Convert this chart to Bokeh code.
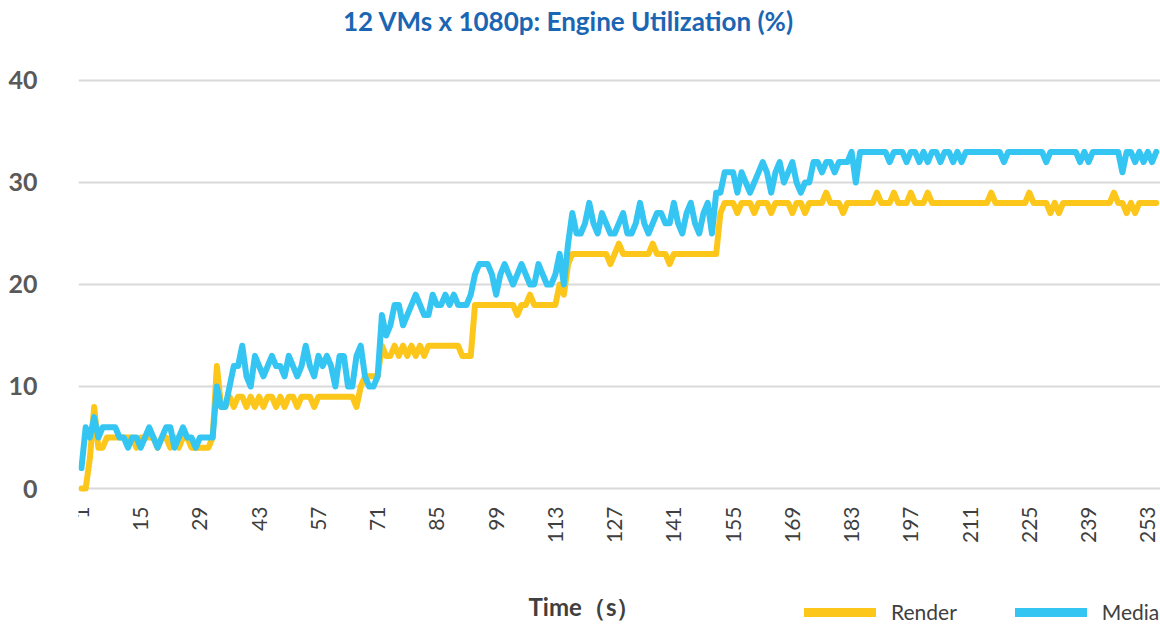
import math
import numpy as np
from bokeh.plotting import figure
from bokeh.models import Range1d, FixedTicker, Legend, LegendItem, ColumnDataSource, Label
from bokeh.embed import file_html
from bokeh.resources import INLINE

title_text = "12 VMs x 1080p: Engine Utilization (%)"
x_title = "Time（s）"
series_names = ["Render", "Media"]

render = [
    0, 0, 3, 8, 4, 4, 5, 5, 5, 5,
    5, 5, 5, 4, 5, 5, 5, 5, 4, 5,
    5, 4, 5, 4, 5, 5, 4, 4, 4, 4,
    4, 5, 12, 8, 8, 9, 8, 9, 9, 8,
    9, 8, 9, 8, 9, 9, 8, 9, 8, 9,
    9, 8, 9, 9, 9, 8, 9, 9, 9, 9,
    9, 9, 9, 9, 9, 8, 10, 11, 11, 11,
    11, 14, 13, 13, 14, 13, 14, 13, 14, 13,
    14, 13, 14, 14, 14, 14, 14, 14, 14, 14,
    13, 13, 13, 18, 18, 18, 18, 18, 18, 18,
    18, 18, 18, 17, 18, 18, 19, 18, 18, 18,
    18, 18, 18, 20, 19, 22, 23, 23, 23, 23,
    23, 23, 23, 23, 23, 22, 23, 24, 23, 23,
    23, 23, 23, 23, 23, 24, 23, 23, 23, 22,
    23, 23, 23, 23, 23, 23, 23, 23, 23, 23,
    23, 27, 28, 28, 28, 27, 28, 28, 28, 27,
    28, 28, 28, 27, 28, 28, 28, 28, 27, 28,
    28, 27, 28, 28, 28, 28, 29, 28, 28, 28,
    27, 28, 28, 28, 28, 28, 28, 28, 29, 28,
    28, 28, 29, 28, 28, 28, 29, 28, 28, 28,
    29, 28, 28, 28, 28, 28, 28, 28, 28, 28,
    28, 28, 28, 28, 28, 29, 28, 28, 28, 28,
    28, 28, 28, 28, 29, 28, 28, 28, 28, 27,
    28, 27, 28, 28, 28, 28, 28, 28, 28, 28,
    28, 28, 28, 28, 29, 28, 28, 27, 28, 27,
    28, 28, 28, 28, 28,
]

media = [
    2, 6, 5, 7, 5, 6, 6, 6, 6, 5,
    5, 4, 5, 5, 4, 5, 6, 5, 4, 5,
    6, 6, 4, 5, 6, 5, 5, 4, 5, 5,
    5, 5, 10, 8, 8, 10, 12, 12, 14, 11,
    10, 13, 12, 11, 12, 13, 12, 12, 11, 13,
    12, 11, 12, 14, 12, 11, 13, 12, 13, 12,
    10, 13, 13, 10, 10, 13, 14, 11, 10, 10,
    11, 17, 15, 16, 18, 18, 16, 17, 18, 19,
    18, 17, 17, 19, 18, 18, 19, 18, 19, 18,
    18, 18, 19, 21, 22, 22, 22, 21, 19, 21,
    22, 21, 20, 21, 22, 21, 20, 20, 22, 21,
    20, 20, 21, 23, 20, 24, 27, 25, 25, 26,
    28, 26, 25, 27, 26, 25, 25, 26, 27, 25,
    25, 26, 28, 26, 25, 26, 27, 27, 26, 26,
    28, 26, 25, 27, 28, 26, 25, 27, 28, 25,
    29, 29, 31, 31, 31, 29, 31, 30, 29, 30,
    31, 32, 31, 29, 31, 32, 30, 31, 32, 30,
    29, 30, 30, 32, 32, 31, 32, 32, 31, 32,
    32, 32, 33, 30, 33, 33, 33, 33, 33, 33,
    33, 32, 33, 33, 33, 32, 33, 33, 32, 33,
    32, 33, 33, 32, 33, 33, 32, 33, 32, 33,
    33, 33, 33, 33, 33, 33, 33, 33, 32, 33,
    33, 33, 33, 33, 33, 33, 33, 33, 32, 33,
    33, 33, 33, 33, 33, 33, 32, 33, 32, 33,
    33, 33, 33, 33, 33, 33, 31, 33, 33, 32,
    33, 32, 33, 32, 33,
]

time_s = list(range(1, len(render) + 1))
x_ticks = list(range(1, 254, 14))
y_ticks = [0, 10, 20, 30, 40]

colors = ["#FCC61A", "#35C5F2"]

src = ColumnDataSource(data=dict(t=time_s, render=render, media=media))

p = figure(width=1160, height=625, output_backend="svg", toolbar_location=None,
           x_range=Range1d(0.3, 256.0), y_range=Range1d(-13.43, 47.84),
           min_border_left=78, min_border_right=0, min_border_top=0, min_border_bottom=0,
           title=None)
p.outline_line_color = None
p.background_fill_color = "white"
p.border_fill_color = "white"

p.line("t", "render", source=src, line_color=colors[0], line_width=6, line_join="round", line_cap="round")
p.line("t", "media", source=src, line_color=colors[1], line_width=6, line_join="round", line_cap="round")

# legend swatches (thicker than the data lines, as in the reference); no visible data
nan_src = ColumnDataSource(data=dict(x=np.array([1.0, 2.0]), y=np.array([np.nan, np.nan])))
r_leg = p.line("x", "y", source=nan_src, line_color=colors[0], line_width=9, line_cap="round")
m_leg = p.line("x", "y", source=nan_src, line_color=colors[1], line_width=9, line_cap="round")

legend = Legend(items=[LegendItem(label=series_names[0], renderers=[r_leg]),
                       LegendItem(label=series_names[1], renderers=[m_leg])],
                orientation="horizontal", location=(726, 1),
                glyph_width=72, glyph_height=16, label_height=16, label_standoff=15,
                spacing=58, padding=0, margin=0,
                label_text_font="Lato", label_text_font_size="21px", label_text_color="#404040",
                border_line_color=None, background_fill_alpha=0)
p.add_layout(legend)

title_lbl = Label(x=490, y=605, x_units="screen", y_units="screen", text=title_text,
                  text_align="center", text_baseline="middle",
                  text_font="Lato", text_font_style="bold", text_font_size="26px",
                  text_color="#1A66B3")
p.add_layout(title_lbl)

xlab = Label(x=506, y=19, x_units="screen", y_units="screen", text=x_title,
             text_align="center", text_baseline="middle",
             text_font="Lato", text_font_style="bold", text_font_size="24px", text_color="#404040")
p.add_layout(xlab)

p.xgrid.visible = False
p.ygrid.ticker = FixedTicker(ticks=y_ticks)
p.ygrid.grid_line_color = "#D9D9D9"
p.ygrid.grid_line_width = 2

p.yaxis.ticker = FixedTicker(ticks=y_ticks)
p.yaxis.axis_line_color = None
p.yaxis.major_tick_line_color = None
p.yaxis.minor_tick_line_color = None
p.yaxis.major_tick_out = 0
p.yaxis.major_tick_in = 0
p.yaxis.major_label_standoff = 41
p.yaxis.major_label_text_font = "Lato"
p.yaxis.major_label_text_font_style = "bold"
p.yaxis.major_label_text_font_size = "25px"
p.yaxis.major_label_text_color = "#595959"

p.xaxis.fixed_location = 0
p.xaxis.ticker = FixedTicker(ticks=x_ticks)
p.xaxis.axis_line_color = None
p.xaxis.major_tick_line_color = None
p.xaxis.minor_tick_line_color = None
p.xaxis.major_tick_out = 0
p.xaxis.major_tick_in = 0
p.xaxis.major_label_orientation = math.pi / 2
p.xaxis.major_label_standoff = 18
p.xaxis.major_label_text_font = "Lato"
p.xaxis.major_label_text_font_size = "21px"
p.xaxis.major_label_text_color = "#404040"

open("out.html", "w").write(file_html(p, INLINE))
